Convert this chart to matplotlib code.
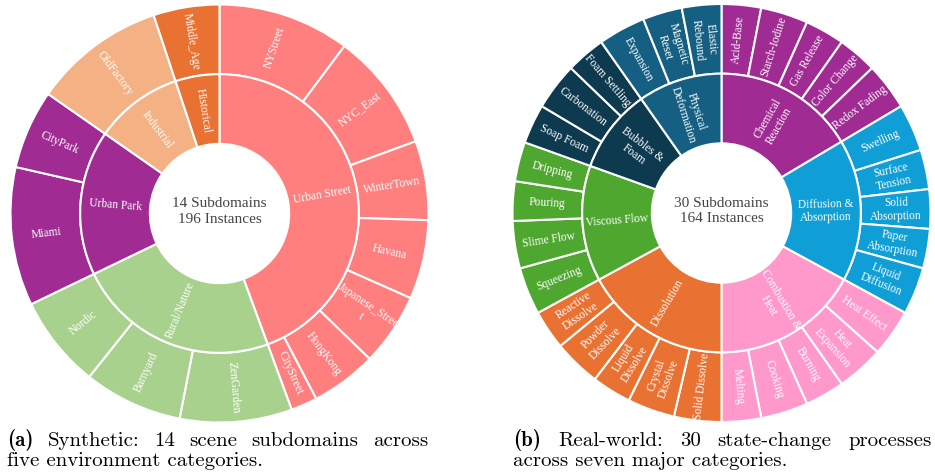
import matplotlib
matplotlib.use('Agg')
import matplotlib.pyplot as plt
import numpy as np

plt.rcParams['font.family'] = ['Liberation Serif', 'DejaVu Serif']

# (a) synthetic
syn_cats = ['Urban Street', 'Rural/Nature', 'Urban Park', 'Industrial', 'Historical']
syn_colors = ['#FF7F7F', '#A9D18E', '#A02B93', '#F4B183', '#E97132']
syn_leaves = [
    ['NYStreet', 'NYC_East', 'WinterTown', 'Havana', 'Japanese_Stree\nt', 'HongKong', 'CityStreet'],
    ['ZenGarden', 'Barnyard', 'Nordic'],
    ['Miami', 'CityPark'],
    ['OldFactory'],
    ['Middle_Age'],
]
syn_counts = [[20, 18, 12, 12, 11, 10, 4], [17, 15, 14], [21, 12], [20], [10]]

# (b) real-world
real_cats = ['Chemical\nReaction', 'Diffusion &\nAbsorption', 'Combustion &\nHeat', 'Dissolution',
             'Viscous Flow', 'Bubbles &\nFoam', 'Physical\nDeformation']
real_colors = ['#A02B93', '#0F9ED5', '#FF99CC', '#E97132', '#4EA72E', '#0E3A50', '#156082']
real_leaves = [
    ['Acid-Base', 'Starch-Iodine', 'Gas Release', 'Color Change', 'Redox Fading'],
    ['Swelling', 'Surface\nTension', 'Solid\nAbsorption', 'Paper\nAbsorption', 'Liquid\nDiffusion'],
    ['Heat Effect', 'Heat\nExpansion', 'Burning', 'Cooking', 'Melting'],
    ['Solid Dissolve', 'Crystal\nDissolve', 'Liquid\nDissolve', 'Powder\nDissolve', 'Reactive\nDissolve'],
    ['Squeezing', 'Slime Flow', 'Pouring', 'Dripping'],
    ['Soap Foam', 'Carbonation', 'Foam Settling'],
    ['Expansion', 'Magnetic\nReset', 'Elastic\nRebound'],
]
real_counts = [[5, 6, 5, 5, 6], [6, 5, 5, 5, 6], [6, 6, 5, 6, 5], [6, 6, 5, 6, 5],
               [6, 6, 5, 5], [5, 6, 5], [6, 5, 5]]

cap_a = ['(a)', 'Synthetic: 14 scene subdomains across', 'five environment categories.']
cap_b = ['(b)', 'Real-world: 30 state-change processes', 'across seven major categories.']


def radial_labels(ax, values, labels, r, size):
    total = sum(values)
    cum = 0
    for v, lab in zip(values, labels):
        mid = 90 - 360 * (cum + v / 2) / total
        cum += v
        a = mid % 360
        if 90 < a <= 270:
            rot = a - 180
        elif a > 270:
            rot = a - 360
        else:
            rot = a
        x = r * np.cos(np.radians(mid))
        y = r * np.sin(np.radians(mid))
        ax.text(x, y, lab, rotation=rot, rotation_mode='anchor', ha='center', va='center',
                multialignment='center', color='white', fontsize=size, linespacing=1.15)


def sunburst(ax, cats, colors, leaves, counts, center_text):
    inner = [sum(c) for c in counts]
    outer = [v for c in counts for v in c]
    outer_colors = [colors[i] for i, c in enumerate(counts) for _ in c]
    outer_labels = [l for ls in leaves for l in ls]
    wp = dict(width=1 / 3, edgecolor='white', linewidth=1.5)
    ax.pie(outer, radius=1.0, colors=outer_colors, startangle=90, counterclock=False, wedgeprops=wp)
    ax.pie(inner, radius=2 / 3, colors=colors, startangle=90, counterclock=False, wedgeprops=wp)
    radial_labels(ax, outer, outer_labels, 0.835, 8.3)
    radial_labels(ax, inner, cats, 0.5, 8.3)
    ax.text(0, 0.01, center_text, ha='center', va='center', fontsize=11, color='#444444',
            linespacing=1.25)
    ax.set_xlim(-1, 1)
    ax.set_ylim(-1, 1)
    ax.axis('off')


W, H = 935, 475
fig = plt.figure(figsize=(W / 100, H / 100), dpi=100)

R = 209
ax1 = fig.add_axes([(219.5 - R) / W, (H - 213.5 - R) / H, 2 * R / W, 2 * R / H])
sunburst(ax1, syn_cats, syn_colors, syn_leaves, syn_counts, '14 Subdomains\n196 Instances')

ax2 = fig.add_axes([(721.5 - R) / W, (H - 213 - R) / H, 2 * R / W, 2 * R / H])
sunburst(ax2, real_cats, real_colors, real_leaves, real_counts, '30 Subdomains\n164 Instances')

cap = dict(fontsize=15, va='baseline', ha='left', color='black')
renderer = fig.canvas.get_renderer()


def caption(lines, x0, x1):
    # first line justified over [x0, x1] (LaTeX style), tag in bold
    words = [lines[0]] + lines[1].split(' ')
    ts = [fig.text(0, 1 - 446 / H, w, fontfamily='cmb10' if i == 0 else 'cmr10', **cap)
          for i, w in enumerate(words)]
    widths = [t.get_window_extent(renderer).width for t in ts]
    gap = (x1 - x0 - sum(widths)) / (len(ts) - 1)
    x = x0
    for t, w in zip(ts, widths):
        t.set_x(x / W)
        x += w + gap
    fig.text(x0 / W, 1 - 466 / H, lines[2], fontfamily='cmr10', **cap)


caption(cap_a, 7, 428)
caption(cap_b, 513, 932)

fig.savefig('out.png', dpi=100)
